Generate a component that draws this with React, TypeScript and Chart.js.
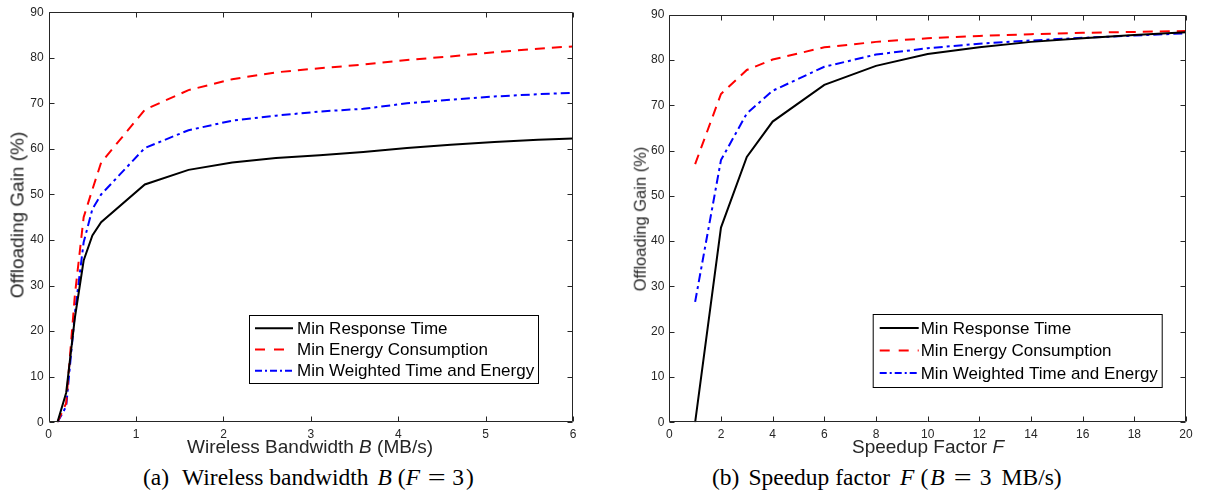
import React, { useEffect, useRef } from 'react';
import { Chart, registerables } from 'chart.js';

Chart.register(...registerables);

// ---- Data: (a) Wireless bandwidth B (F = 3) ----
const bandwidthB = [0.1, 0.2, 0.3, 0.4, 0.5, 0.6, 1.1, 1.6, 2.1, 2.6, 3.1, 3.6, 4.1, 4.6, 5.1, 5.6, 6.0];
const respTimeB = [0, 6.5, 23, 35.5, 41, 43.9, 52.2, 55.4, 57.0, 58.0, 58.6, 59.3, 60.2, 60.9, 61.5, 62.0, 62.3];
const energyB = [0, 4.2, 28, 45, 51.1, 57.0, 68.6, 72.9, 75.3, 76.8, 77.7, 78.5, 79.5, 80.3, 81.2, 82.0, 82.5];
const weightedB = [0, 3.5, 24, 39.5, 46.8, 50.0, 60.2, 64.1, 66.2, 67.3, 68.2, 68.8, 70.0, 70.8, 71.5, 72.0, 72.3];

// ---- Data: (b) Speedup factor F (B = 3 MB/s) ----
const speedF = [1, 2, 3, 4, 6, 8, 10, 12, 14, 16, 18, 20];
const respTimeF = [0, 43, 58.6, 66.4, 74.5, 78.7, 81.3, 82.8, 84.0, 84.8, 85.5, 86.1];
const energyF = [57, 72.5, 77.8, 80.1, 82.8, 84.0, 84.8, 85.3, 85.7, 86.0, 86.2, 86.4];
const weightedF = [26.6, 57.9, 68.2, 73.2, 78.5, 81.2, 82.6, 83.6, 84.3, 84.9, 85.4, 85.9];

const seriesLabels = ['Min Response Time', 'Min Energy Consumption', 'Min Weighted Time and Energy'];
const yTicksMax = 90;

const SANS = '"Liberation Sans", Arial, Helvetica, sans-serif';
const SERIF = '"Liberation Serif", "Times New Roman", serif';
const AXIS_COLOR = '#262626';

const toPoints = (xs: number[], ys: number[]) => xs.map((x, i) => ({ x, y: ys[i] }));

const boxTicksPlugin = {
  id: 'boxTicks',
  afterDatasetsDraw(chart: any) {
    const { ctx, chartArea: a, scales } = chart;
    const L = 5;
    ctx.save();
    ctx.strokeStyle = AXIS_COLOR;
    ctx.lineWidth = 1;
    const left = Math.round(a.left) + 0.5;
    const right = Math.round(a.right) - 0.5;
    const top = Math.round(a.top) + 0.5;
    const bottom = Math.round(a.bottom) - 0.5;
    ctx.beginPath();
    ctx.rect(left, top, right - left, bottom - top);
    const xs = scales.x;
    xs.ticks.forEach((t: any) => {
      const px = Math.round(xs.getPixelForValue(t.value)) + 0.5;
      ctx.moveTo(px, bottom);
      ctx.lineTo(px, bottom - L);
      ctx.moveTo(px, top);
      ctx.lineTo(px, top + L);
    });
    const ys = scales.y;
    ys.ticks.forEach((t: any) => {
      const py = Math.round(ys.getPixelForValue(t.value)) + 0.5;
      ctx.moveTo(left, py);
      ctx.lineTo(left + L, py);
      ctx.moveTo(right, py);
      ctx.lineTo(right - L, py);
    });
    ctx.stroke();
    ctx.restore();
  },
};

const boxLegendPlugin = {
  id: 'boxLegend',
  afterDraw(chart: any, _args: any, opts: any) {
    const { ctx } = chart;
    const { x, y, w, h, rowH, firstRow, lineX0, lineX1, textX, fontSize } = opts;
    ctx.save();
    ctx.fillStyle = '#fff';
    ctx.fillRect(x, y, w, h);
    ctx.strokeStyle = '#000';
    ctx.lineWidth = 1;
    ctx.strokeRect(x + 0.5, y + 0.5, w, h);
    ctx.font = `${fontSize}px ${SANS}`;
    ctx.textBaseline = 'middle';
    ctx.textAlign = 'left';
    chart.data.datasets.forEach((ds: any, i: number) => {
      const cy = y + firstRow + i * rowH;
      ctx.beginPath();
      ctx.setLineDash(ds.legendDash || []);
      ctx.strokeStyle = ds.borderColor;
      ctx.lineWidth = 2;
      ctx.moveTo(x + lineX0, cy);
      ctx.lineTo(x + lineX1, cy);
      ctx.stroke();
      ctx.setLineDash([]);
      ctx.fillStyle = '#000';
      ctx.fillText(ds.label, x + textX, cy + 1);
    });
    ctx.restore();
  },
};

function makeConfig(
  xs: number[],
  rt: number[],
  en: number[],
  wt: number[],
  xMax: number,
  xStep: number,
  yAxisWidth: number,
  padding: { top: number; right: number },
  xAxisHeight: number,
  legend: any
): any {
  return {
    type: 'line',
    data: {
      datasets: [
        {
          label: seriesLabels[0],
          data: toPoints(xs, rt),
          borderColor: '#000000',
          borderWidth: 2,
          borderDash: [],
          legendDash: [],
          pointRadius: 0,
          tension: 0,
          fill: false,
        },
        {
          label: seriesLabels[1],
          data: toPoints(xs, en),
          borderColor: '#ff0000',
          borderWidth: 2,
          borderDash: [10, 7],
          legendDash: [10, 9],
          pointRadius: 0,
          tension: 0,
          fill: false,
        },
        {
          label: seriesLabels[2],
          data: toPoints(xs, wt),
          borderColor: '#0000ff',
          borderWidth: 2,
          borderDash: [9, 4, 3, 4],
          legendDash: [7, 3, 2, 3],
          pointRadius: 0,
          tension: 0,
          fill: false,
        },
      ],
    },
    options: {
      responsive: false,
      animation: false,
      events: [],
      layout: { padding: { top: padding.top, right: padding.right, left: 0, bottom: 0 } },
      plugins: {
        legend: { display: false },
        tooltip: { enabled: false },
        title: { display: false },
        boxLegend: legend,
      },
      scales: {
        x: {
          type: 'linear',
          min: 0,
          max: xMax,
          ticks: {
            stepSize: xStep,
            autoSkip: false,
            maxRotation: 0,
            padding: 5,
            color: AXIS_COLOR,
            font: { family: SANS, size: 12 },
          },
          grid: { display: false, drawTicks: false },
          border: { display: false },
          afterFit: (s: any) => {
            s.height = xAxisHeight;
          },
        },
        y: {
          type: 'linear',
          min: 0,
          max: yTicksMax,
          ticks: {
            stepSize: 10,
            autoSkip: false,
            padding: 5,
            color: AXIS_COLOR,
            font: { family: SANS, size: 12 },
          },
          grid: { display: false, drawTicks: false },
          border: { display: false },
          afterFit: (s: any) => {
            s.width = yAxisWidth;
          },
        },
      },
    },
    plugins: [boxTicksPlugin, boxLegendPlugin],
  };
}

const seg = (ml: number): React.CSSProperties => ({ display: 'inline-block', marginLeft: ml });

function Eq({ ml, mr }: { ml: number; mr: number }) {
  return (
    <span
      style={{
        display: 'inline-block',
        transform: 'scaleX(1.35)',
        transformOrigin: '50% 50%',
        marginLeft: ml,
        marginRight: mr,
      }}
    >
      =
    </span>
  );
}

export default function App() {
  const leftRef = useRef<HTMLCanvasElement | null>(null);
  const rightRef = useRef<HTMLCanvasElement | null>(null);

  useEffect(() => {
    const left = new Chart(
      leftRef.current as HTMLCanvasElement,
      makeConfig(bandwidthB, respTimeB, energyB, weightedB, 6, 1, 48.7, { top: 7.3, right: 27 }, 17.7, {
        x: 249,
        y: 315,
        w: 289,
        h: 68,
        rowH: 21.2,
        firstRow: 13.3,
        lineX0: 6,
        lineX1: 44,
        textX: 48,
        fontSize: 17,
      })
    );
    const right = new Chart(
      rightRef.current as HTMLCanvasElement,
      makeConfig(speedF, respTimeF, energyF, weightedF, 20, 2, 69.3, { top: 14.7, right: 19 }, 17.7, {
        x: 272.7,
        y: 314,
        w: 289,
        h: 73,
        rowH: 22.5,
        firstRow: 14,
        lineX0: 7,
        lineX1: 46,
        textX: 48,
        fontSize: 17,
      })
    );
    return () => {
      left.destroy();
      right.destroy();
    };
  }, []);

  const titleStyle: React.CSSProperties = {
    position: 'absolute',
    transform: 'translate(-50%, -50%)',
    whiteSpace: 'nowrap',
    fontFamily: SANS,
    color: AXIS_COLOR,
    lineHeight: 1,
  };
  const yTitleStyle: React.CSSProperties = {
    ...titleStyle,
    transform: 'translate(-50%, -50%) rotate(-90deg)',
  };
  const capStyle: React.CSSProperties = {
    position: 'absolute',
    transform: 'translateY(-50%)',
    whiteSpace: 'nowrap',
    fontFamily: SERIF,
    color: '#000',
    fontSize: 23.5,
    lineHeight: 1,
  };

  return (
    <div
      style={{
        position: 'absolute',
        left: 0,
        top: 0,
        width: 1205,
        height: 500,
        background: '#ffffff',
        overflow: 'hidden',
      }}
    >
      <canvas ref={leftRef} width={600} height={440} style={{ position: 'absolute', left: 0, top: 0 }} />
      <canvas ref={rightRef} width={605} height={440} style={{ position: 'absolute', left: 600, top: 0 }} />

      <div style={{ ...yTitleStyle, left: 17, top: 214.5, fontSize: 19 }}>Offloading Gain (%)</div>
      <div style={{ ...yTitleStyle, left: 640, top: 219, fontSize: 16.5 }}>Offloading Gain (%)</div>

      <div style={{ ...titleStyle, left: 310, top: 446, fontSize: 19 }}>
        Wireless Bandwidth <i>B</i> (MB/s)
      </div>
      <div style={{ ...titleStyle, left: 928, top: 446, fontSize: 19 }}>
        Speedup Factor <i>F</i>
      </div>

      <div style={{ ...capStyle, left: 143, top: 478 }}>
        <span style={seg(0)}>(a)</span>
        <span style={seg(13)}>Wireless bandwidth</span>
        <i style={seg(9)}>B</i>
        <span style={seg(6)}>(</span>
        <i style={seg(0)}>F</i>
        <Eq ml={10} mr={3} />
        <span style={seg(6)}>3</span>
        <span style={seg(2)}>)</span>
      </div>
      <div style={{ ...capStyle, left: 712, top: 478 }}>
        <span style={seg(0)}>(b)</span>
        <span style={seg(9)}>Speedup factor</span>
        <i style={seg(10)}>F</i>
        <span style={seg(6)}>(</span>
        <i style={seg(2)}>B</i>
        <Eq ml={11} mr={3} />
        <span style={seg(8)}>3</span>
        <span style={seg(10)}>MB/s)</span>
      </div>
    </div>
  );
}
